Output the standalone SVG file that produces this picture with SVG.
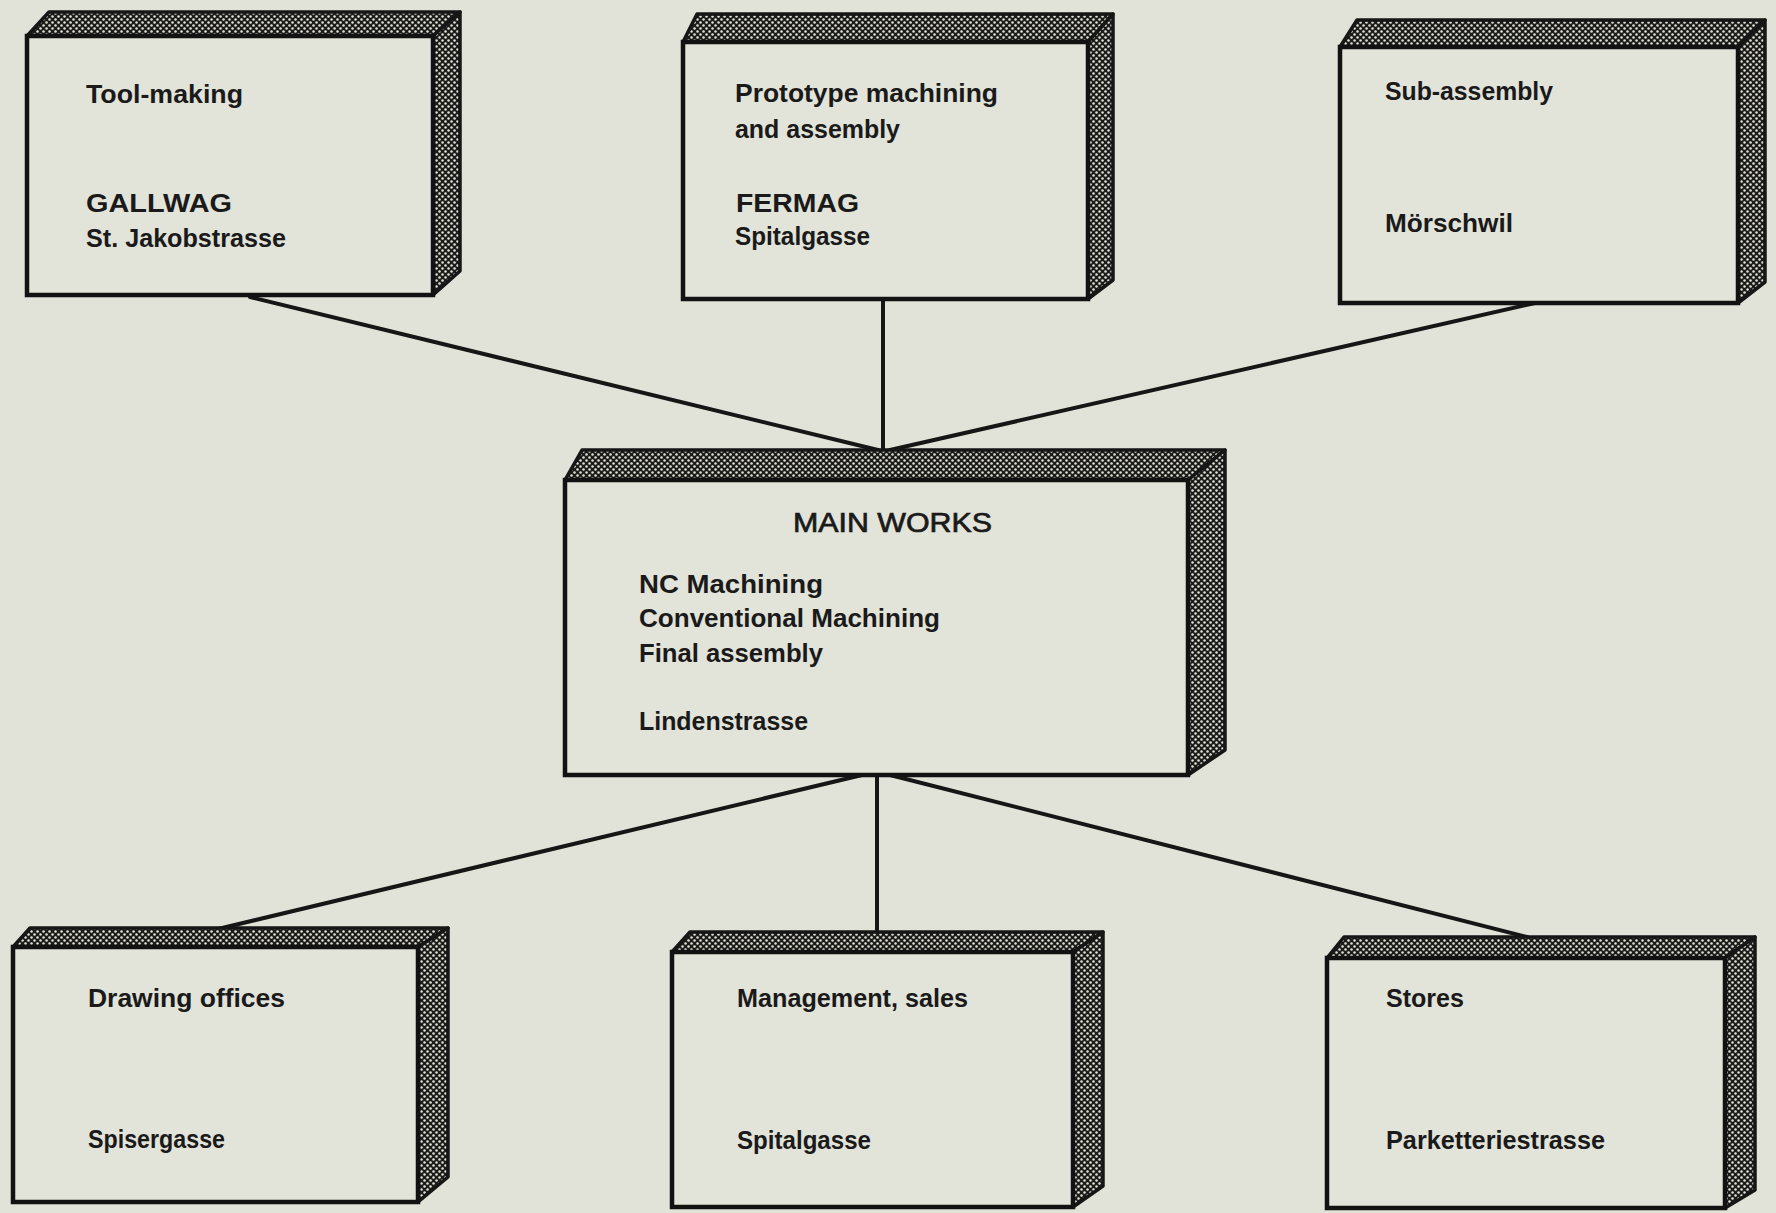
<svg xmlns="http://www.w3.org/2000/svg" width="1776" height="1213" viewBox="0 0 1776 1213">
  <defs>
    <!-- halftone screen used on the top and side faces of each block -->
    <pattern id="halftone" width="6" height="6" patternUnits="userSpaceOnUse">
      <rect width="6" height="6" fill="#1c1c1a"/>
      <circle cx="1.5" cy="1.5" r="1.25" fill="#e4e4da"/>
      <circle cx="4.5" cy="4.5" r="1.25" fill="#e4e4da"/>
    </pattern>
    <style>
      .side { fill: url(#halftone); stroke: #161616; stroke-width: 3.5; stroke-linejoin: round; }
      .face { fill: #e2e3d9; stroke: #121212; stroke-width: 4.5; }
      .link { stroke: #161616; stroke-width: 4; fill: none; stroke-linecap: round; }
      .lbl { font-family: "Liberation Sans", Arial, sans-serif; font-size: 25px; font-weight: bold; fill: #1a1a1a; }
      .head { font-family: "Liberation Sans", Arial, sans-serif; font-size: 27px; font-weight: normal; fill: #1a1a1a; stroke: #1a1a1a; stroke-width: 0.7; }
    </style>
  </defs>

  <rect width="1776" height="1213" fill="#e1e2d8"/>

  <!-- connectors -->
  <g id="connectors">
    <line class="link" x1="250" y1="297" x2="878" y2="450"/>
    <line class="link" x1="883" y1="299" x2="883" y2="450"/>
    <line class="link" x1="1535" y1="303" x2="890" y2="450"/>
    <line class="link" x1="862" y1="775" x2="218" y2="929"/>
    <line class="link" x1="877" y1="775" x2="877" y2="933"/>
    <line class="link" x1="890" y1="775" x2="1527" y2="937"/>
  </g>

  <!-- Tool-making -->
  <g id="box-toolmaking">
    <polygon class="side" points="27,36 49,12 460,12 433,36"/>
    <polygon class="side" points="433,36 460,12 460,271 433,295"/>
    <rect class="face" x="27" y="36" width="406" height="259"/>
    <text class="lbl" x="86" y="103" textLength="157" lengthAdjust="spacingAndGlyphs">Tool-making</text>
    <text class="lbl" x="86" y="212" textLength="146" lengthAdjust="spacingAndGlyphs">GALLWAG</text>
    <text class="lbl" x="86" y="247" textLength="200" lengthAdjust="spacingAndGlyphs">St. Jakobstrasse</text>
  </g>

  <!-- Prototype machining -->
  <g id="box-prototype">
    <polygon class="side" points="683,42 697,14 1113,14 1088,42"/>
    <polygon class="side" points="1088,42 1113,14 1113,280 1088,299"/>
    <rect class="face" x="683" y="42" width="405" height="257"/>
    <text class="lbl" x="735" y="102" textLength="263" lengthAdjust="spacingAndGlyphs">Prototype machining</text>
    <text class="lbl" x="735" y="138" textLength="165" lengthAdjust="spacingAndGlyphs">and assembly</text>
    <text class="lbl" x="736" y="212" textLength="123" lengthAdjust="spacingAndGlyphs">FERMAG</text>
    <text class="lbl" x="735" y="245" textLength="135" lengthAdjust="spacingAndGlyphs">Spitalgasse</text>
  </g>

  <!-- Sub-assembly -->
  <g id="box-subassembly">
    <polygon class="side" points="1340,47 1357,20 1765,20 1738,47"/>
    <polygon class="side" points="1738,47 1765,20 1765,282 1738,303"/>
    <rect class="face" x="1340" y="47" width="398" height="256"/>
    <text class="lbl" x="1385" y="100" textLength="168" lengthAdjust="spacingAndGlyphs">Sub-assembly</text>
    <text class="lbl" x="1385" y="232" textLength="128" lengthAdjust="spacingAndGlyphs">Mörschwil</text>
  </g>

  <!-- Main works -->
  <g id="box-mainworks">
    <polygon class="side" points="565,480 582,450 1225,450 1188,480"/>
    <polygon class="side" points="1188,480 1225,450 1225,750 1188,775"/>
    <rect class="face" x="565" y="480" width="623" height="295"/>
    <text class="head" x="793" y="532" textLength="199" lengthAdjust="spacingAndGlyphs">MAIN WORKS</text>
    <text class="lbl" x="639" y="593" textLength="184" lengthAdjust="spacingAndGlyphs">NC  Machining</text>
    <text class="lbl" x="639" y="627" textLength="301" lengthAdjust="spacingAndGlyphs">Conventional Machining</text>
    <text class="lbl" x="639" y="662" textLength="184" lengthAdjust="spacingAndGlyphs">Final assembly</text>
    <text class="lbl" x="639" y="730" textLength="169" lengthAdjust="spacingAndGlyphs">Lindenstrasse</text>
  </g>

  <!-- Drawing offices -->
  <g id="box-drawing">
    <polygon class="side" points="13,947 30,928 448,928 418,947"/>
    <polygon class="side" points="418,947 448,928 448,1177 418,1202"/>
    <rect class="face" x="13" y="947" width="405" height="255"/>
    <text class="lbl" x="88" y="1007" textLength="197" lengthAdjust="spacingAndGlyphs">Drawing offices</text>
    <text class="lbl" x="88" y="1148" textLength="137" lengthAdjust="spacingAndGlyphs">Spisergasse</text>
  </g>

  <!-- Management, sales -->
  <g id="box-management">
    <polygon class="side" points="672,952 690,932 1103,932 1073,952"/>
    <polygon class="side" points="1073,952 1103,932 1103,1186 1073,1207"/>
    <rect class="face" x="672" y="952" width="401" height="255"/>
    <text class="lbl" x="737" y="1007" textLength="231" lengthAdjust="spacingAndGlyphs">Management, sales</text>
    <text class="lbl" x="737" y="1149" textLength="134" lengthAdjust="spacingAndGlyphs">Spitalgasse</text>
  </g>

  <!-- Stores -->
  <g id="box-stores">
    <polygon class="side" points="1327,958 1344,937 1755,937 1725,958"/>
    <polygon class="side" points="1725,958 1755,937 1755,1190 1725,1208"/>
    <rect class="face" x="1327" y="958" width="398" height="250"/>
    <text class="lbl" x="1386" y="1007" textLength="78" lengthAdjust="spacingAndGlyphs">Stores</text>
    <text class="lbl" x="1386" y="1149" textLength="219" lengthAdjust="spacingAndGlyphs">Parketteriestrasse</text>
  </g>
</svg>
